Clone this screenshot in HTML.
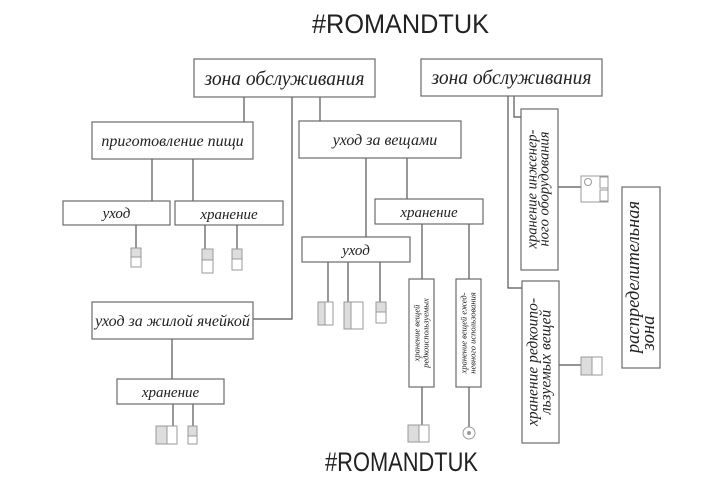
<!DOCTYPE html>
<html><head><meta charset="utf-8"><style>
html,body{margin:0;padding:0;background:#fff;}
svg{display:block;}
.b{fill:#fff;stroke:#6a6a6a;stroke-width:1.2;}
.l{stroke:#555;stroke-width:1.2;fill:none;}
.t{font-family:"Liberation Serif",serif;font-style:italic;fill:#222;}
.i{fill:#fff;stroke:#999;stroke-width:1;}
.g{fill:#ddd;stroke:#999;stroke-width:1;}
</style></head><body>
<svg width="720" height="480" viewBox="0 0 720 480" xmlns="http://www.w3.org/2000/svg">
<text x="312" y="33" font-family="Liberation Sans,sans-serif" font-size="27" fill="#222" textLength="177" lengthAdjust="spacingAndGlyphs">#ROMANDTUK</text>
<text x="325" y="471" font-family="Liberation Sans,sans-serif" font-size="27" fill="#222" textLength="153" lengthAdjust="spacingAndGlyphs">#ROMANDTUK</text>

<path class="l" d="M244 97V122 M292 97V319H253 M320 97V121 M152 159V201 M193 159V201 M136 225V248 M205 225V250 M237 225V250 M366 158V237 M407 158V199 M328 262V302 M348 262V302 M380 262V302 M422 224V425 M469 224V427 M508 96V288H522 M514 96V117H521 M558 187H581 M559 365H581 M172 339V379 M173 404V426 M193 404V426"/>

<rect class="b" x="194" y="59" width="181" height="38"/>
<text class="t" x="284.5" y="85" font-size="19.5" text-anchor="middle">зона обслуживания</text>
<rect class="b" x="421" y="59" width="181" height="37"/>
<text class="t" x="511.5" y="84" font-size="19.5" text-anchor="middle">зона обслуживания</text>

<rect class="b" x="92" y="122" width="161" height="37"/>
<text class="t" x="172.5" y="146" font-size="16" text-anchor="middle">приготовление пищи</text>
<rect class="b" x="299" y="121" width="162" height="37"/>
<text class="t" x="385" y="145" font-size="16" text-anchor="middle">уход за вещами</text>

<rect class="b" x="63" y="201" width="107" height="24"/>
<text class="t" x="116.5" y="218" font-size="15" text-anchor="middle">уход</text>
<rect class="b" x="175" y="201" width="108" height="24"/>
<text class="t" x="229" y="219" font-size="15" text-anchor="middle">хранение</text>
<rect class="b" x="375" y="199" width="108" height="25"/>
<text class="t" x="429" y="217" font-size="15" text-anchor="middle">хранение</text>
<rect class="b" x="302" y="237" width="108" height="25"/>
<text class="t" x="356" y="255" font-size="15" text-anchor="middle">уход</text>

<rect class="b" x="92" y="302" width="161" height="37"/>
<text class="t" x="172.5" y="326" font-size="16" text-anchor="middle">уход за жилой ячейкой</text>
<rect class="b" x="117" y="379" width="107" height="25"/>
<text class="t" x="170.5" y="397" font-size="15" text-anchor="middle">хранение</text>

<rect class="b" x="409" y="279" width="25" height="108"/>
<text class="t" font-size="8.5" text-anchor="middle" transform="translate(421.5,333) rotate(-90)"><tspan x="0" y="-2">хранение вещей</tspan><tspan x="0" y="7">редкоиспользуемых</tspan></text>
<rect class="b" x="456" y="279" width="25" height="108"/>
<text class="t" font-size="8.5" text-anchor="middle" transform="translate(468.5,333) rotate(-90)"><tspan x="0" y="-2">хранение вещей ежед-</tspan><tspan x="0" y="7">невного использования</tspan></text>

<rect class="b" x="521" y="109" width="37" height="161"/>
<text class="t" font-size="14.5" text-anchor="middle" transform="translate(539.5,189) rotate(-90)"><tspan x="0" y="-3">хранение инженер-</tspan><tspan x="0" y="9">ного оборудования</tspan></text>
<rect class="b" x="522" y="281" width="37" height="162"/>
<text class="t" font-size="15.5" text-anchor="middle" transform="translate(540.5,362) rotate(-90)"><tspan x="0" y="-3">хранение редкоипо-</tspan><tspan x="0" y="10">льзуемых вещей</tspan></text>
<rect class="b" x="622" y="187" width="38" height="181"/>
<text class="t" font-size="18.5" transform="translate(641,277) rotate(-90)" text-anchor="middle"><tspan x="0" y="-2">распределительная</tspan><tspan x="-56" y="13">зона</tspan></text>

<rect class="g" x="131" y="248" width="10" height="9"/><rect class="i" x="131" y="257" width="10" height="10"/>
<rect class="g" x="202" y="249" width="11" height="11" stroke="#555"/><rect class="i" x="202" y="260" width="11" height="13"/>
<rect class="g" x="232" y="249" width="10" height="10"/><rect class="i" x="232" y="259" width="10" height="11"/>
<rect class="g" x="318" y="302" width="7" height="23"/><rect class="i" x="325" y="302" width="8" height="23"/>
<rect class="g" x="344" y="302" width="7" height="27" fill="#aaa"/><rect class="i" x="351" y="302" width="12" height="27"/>
<rect class="g" x="376" y="302" width="10" height="10"/><rect class="i" x="376" y="312" width="10" height="11"/>
<rect class="g" x="408" y="425" width="11" height="17"/><rect class="i" x="419" y="425" width="10" height="17"/>
<circle cx="469" cy="433" r="6" class="i"/><circle cx="469" cy="433" r="2" fill="#999"/>
<rect class="i" x="581" y="176" width="27" height="26" stroke="#555"/><circle cx="588" cy="182" r="3.5" class="i" stroke="#555"/><rect class="i" x="600" y="177" width="8" height="11"/><rect class="i" x="600" y="190" width="8" height="11"/>
<rect class="g" x="581" y="357" width="11" height="18"/><rect class="i" x="592" y="357" width="10" height="18"/>
<rect class="g" x="156" y="426" width="11" height="18"/><rect class="i" x="167" y="426" width="10" height="18"/>
<rect class="g" x="188" y="426" width="9" height="10" stroke="#555"/><rect class="i" x="188" y="436" width="9" height="8"/>
</svg>
</body></html>
